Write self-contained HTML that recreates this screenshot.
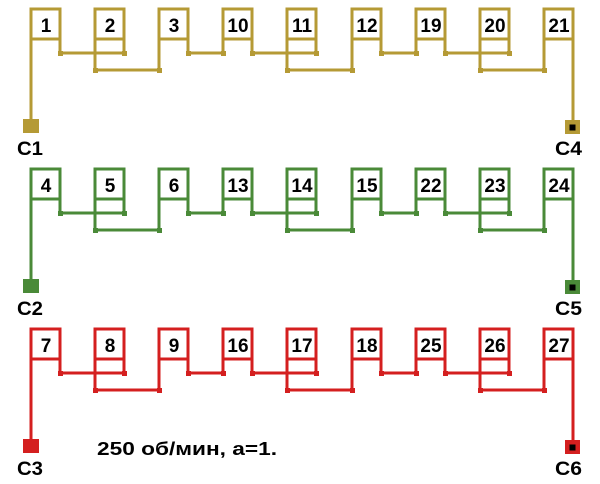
<!DOCTYPE html>
<html><head><meta charset="utf-8"><style>
html,body{margin:0;padding:0;background:#fff;width:600px;height:484px;overflow:hidden}
svg{display:block}
text{font-family:"Liberation Sans",sans-serif;font-weight:bold;fill:#000}
</style></head><body>
<svg width="600" height="484" viewBox="0 0 600 484" xmlns="http://www.w3.org/2000/svg">
<defs>
<g id="geo" fill="none" stroke="currentColor" stroke-width="3">
  <rect x="31" y="9" width="29" height="30" fill="#fff"/>
  <rect x="95" y="9" width="29" height="30" fill="#fff"/>
  <rect x="159" y="9" width="29" height="30" fill="#fff"/>
  <rect x="223" y="9" width="29" height="30" fill="#fff"/>
  <rect x="287" y="9" width="29" height="30" fill="#fff"/>
  <rect x="352" y="9" width="29" height="30" fill="#fff"/>
  <rect x="416" y="9" width="29" height="30" fill="#fff"/>
  <rect x="480" y="9" width="29" height="30" fill="#fff"/>
  <rect x="544" y="9" width="29" height="30" fill="#fff"/>
  <path d="M31 39V120 M60 39V53
           M95 39V70 M124 39V53
           M159 39V70 M188 39V53
           M223 39V53 M252 39V53
           M287 39V70 M316 39V53
           M352 39V70 M381 39V53
           M416 39V53 M445 39V53
           M480 39V70 M509 39V53
           M544 39V70 M573 39V121"/>
  <path d="M60 53H124 M188 53H223 M252 53H316 M381 53H416 M445 53H509
           M95 70H159 M287 70H352 M480 70H544"/>
  <g fill="currentColor" stroke="none">
    <rect x="58" y="51" width="5" height="5"/><rect x="122" y="51" width="5" height="5"/>
    <rect x="186" y="51" width="5" height="5"/><rect x="221" y="51" width="5" height="5"/>
    <rect x="250" y="51" width="5" height="5"/><rect x="314" y="51" width="5" height="5"/>
    <rect x="379" y="51" width="5" height="5"/><rect x="414" y="51" width="5" height="5"/>
    <rect x="443" y="51" width="5" height="5"/><rect x="507" y="51" width="5" height="5"/>
    <rect x="93" y="68" width="5" height="5"/><rect x="157" y="68" width="5" height="5"/>
    <rect x="285" y="68" width="5" height="5"/><rect x="350" y="68" width="5" height="5"/>
    <rect x="478" y="68" width="5" height="5"/><rect x="542" y="68" width="5" height="5"/>
    <rect x="23" y="119" width="16" height="14"/>
    <rect x="565" y="120" width="15" height="14"/>
  </g>
  <rect x="569.5" y="124.5" width="6" height="6" fill="#000" stroke="none"/>
</g>
</defs>

<use href="#geo" style="color:#b59a35"/>
<use href="#geo" y="160" style="color:#4a8a38"/>
<use href="#geo" y="320" style="color:#d41f1f"/>

<g font-size="19" text-anchor="middle">
  <text x="46" y="32">1</text><text x="110" y="32">2</text><text x="174" y="32">3</text>
  <text x="238" y="32">10</text><text x="302" y="32">11</text><text x="367" y="32">12</text>
  <text x="431" y="32">19</text><text x="495" y="32">20</text><text x="559" y="32">21</text>

  <text x="46" y="192">4</text><text x="110" y="192">5</text><text x="174" y="192">6</text>
  <text x="238" y="192">13</text><text x="302" y="192">14</text><text x="367" y="192">15</text>
  <text x="431" y="192">22</text><text x="495" y="192">23</text><text x="559" y="192">24</text>

  <text x="46" y="352">7</text><text x="110" y="352">8</text><text x="174" y="352">9</text>
  <text x="238" y="352">16</text><text x="302" y="352">17</text><text x="367" y="352">18</text>
  <text x="431" y="352">25</text><text x="495" y="352">26</text><text x="559" y="352">27</text>
</g>
<g font-size="19">
  <text x="17" y="155" textLength="26" lengthAdjust="spacingAndGlyphs">C1</text><text x="555" y="155" textLength="27" lengthAdjust="spacingAndGlyphs">C4</text>
  <text x="17" y="315" textLength="26" lengthAdjust="spacingAndGlyphs">C2</text><text x="555" y="315" textLength="27" lengthAdjust="spacingAndGlyphs">C5</text>
  <text x="17" y="475" textLength="26" lengthAdjust="spacingAndGlyphs">C3</text><text x="555" y="475" textLength="27" lengthAdjust="spacingAndGlyphs">C6</text>
</g>
<text x="97" y="455" font-size="18" textLength="180" lengthAdjust="spacingAndGlyphs">250 об/мин, а=1.</text>
</svg>
</body></html>
